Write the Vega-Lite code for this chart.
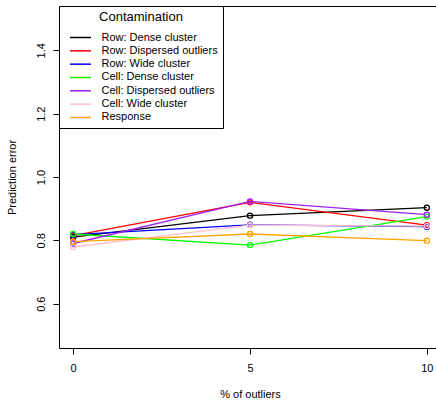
{
  "$schema": "https://vega.github.io/schema/vega-lite/v6.json",
  "width": 382,
  "height": 342,
  "autosize": {"type": "none"},
  "padding": {"left": 59, "top": 6, "right": 0, "bottom": 52},
  "background": "white",
  "config": {
    "font": "Liberation Sans",
    "view": {"stroke": "black", "strokeWidth": 1},
    "axis": {
      "grid": false,
      "domain": false,
      "tickColor": "black",
      "tickSize": 6,
      "labelColor": "black",
      "labelFontSize": 11,
      "titleColor": "black",
      "titleFontSize": 11,
      "titleFontWeight": "normal",
      "labelFont": "Liberation Sans",
      "titleFont": "Liberation Sans"
    }
  },
  "data": {
    "values": [
      {"series": "Row: Dense cluster", "pct": 0, "err": 0.810},
      {"series": "Row: Dense cluster", "pct": 5, "err": 0.878},
      {"series": "Row: Dense cluster", "pct": 10, "err": 0.903},
      {"series": "Row: Dispersed outliers", "pct": 0, "err": 0.815},
      {"series": "Row: Dispersed outliers", "pct": 5, "err": 0.920},
      {"series": "Row: Dispersed outliers", "pct": 10, "err": 0.848},
      {"series": "Row: Wide cluster", "pct": 0, "err": 0.818},
      {"series": "Row: Wide cluster", "pct": 5, "err": 0.849},
      {"series": "Row: Wide cluster", "pct": 10, "err": 0.843},
      {"series": "Cell: Dense cluster", "pct": 0, "err": 0.820},
      {"series": "Cell: Dense cluster", "pct": 5, "err": 0.785},
      {"series": "Cell: Dense cluster", "pct": 10, "err": 0.875},
      {"series": "Cell: Dispersed outliers", "pct": 0, "err": 0.790},
      {"series": "Cell: Dispersed outliers", "pct": 5, "err": 0.923},
      {"series": "Cell: Dispersed outliers", "pct": 10, "err": 0.881},
      {"series": "Cell: Wide cluster", "pct": 0, "err": 0.779},
      {"series": "Cell: Wide cluster", "pct": 5, "err": 0.848},
      {"series": "Cell: Wide cluster", "pct": 10, "err": 0.845},
      {"series": "Response", "pct": 0, "err": 0.796},
      {"series": "Response", "pct": 5, "err": 0.820},
      {"series": "Response", "pct": 10, "err": 0.799}
    ]
  },
  "encoding": {
    "x": {
      "field": "pct",
      "type": "quantitative",
      "scale": {"domain": [-0.4, 10.4], "nice": false, "zero": false},
      "axis": {
        "values": [0, 5, 10],
        "title": "% of outliers",
        "labelPadding": 8,
        "titleX": 191,
        "titleY": 46,
        "titleBaseline": "middle"
      }
    },
    "y": {
      "field": "err",
      "type": "quantitative",
      "scale": {"domain": [0.46, 1.54], "nice": false, "zero": false},
      "axis": {
        "values": [0.6, 0.8, 1.0, 1.2, 1.4],
        "format": ".1f",
        "labelAngle": 270,
        "labelAlign": "center",
        "labelBaseline": "alphabetic",
        "labelPadding": 9,
        "title": "Prediction error",
        "titleAngle": 270,
        "titleX": -47,
        "titleY": 171,
        "titleAlign": "center",
        "titleBaseline": "middle"
      }
    },
    "color": {
      "field": "series",
      "type": "nominal",
      "scale": {
        "domain": ["Row: Dense cluster", "Row: Dispersed outliers", "Row: Wide cluster", "Cell: Dense cluster", "Cell: Dispersed outliers", "Cell: Wide cluster", "Response"],
        "range": ["#000000", "#FF0000", "#0000FF", "#00FF00", "#A020F0", "#FFC0CB", "#FFA500"]
      },
      "legend": {
        "orient": "none",
        "legendX": 0,
        "legendY": 0,
        "title": "Contamination",
        "titleAnchor": "middle",
        "titleFontSize": 13,
        "titleFontWeight": "normal",
        "titleColor": "black",
        "titlePadding": 7.5,
        "labelFontSize": 11,
        "labelColor": "black",
        "symbolType": "M0,0H4",
        "symbolSize": 110,
        "symbolStrokeWidth": 1.5,
        "labelOffset": 25.5,
        "rowPadding": 2.33,
        "padding": 5,
        "strokeColor": "black",
        "fillColor": "white"
      }
    }
  },
  "layer": [
    {"mark": {"type": "line", "strokeWidth": 1.3}},
    {"mark": {"type": "point", "shape": "circle", "filled": false, "size": 26, "strokeWidth": 1.3, "opacity": 1}}
  ]
}
